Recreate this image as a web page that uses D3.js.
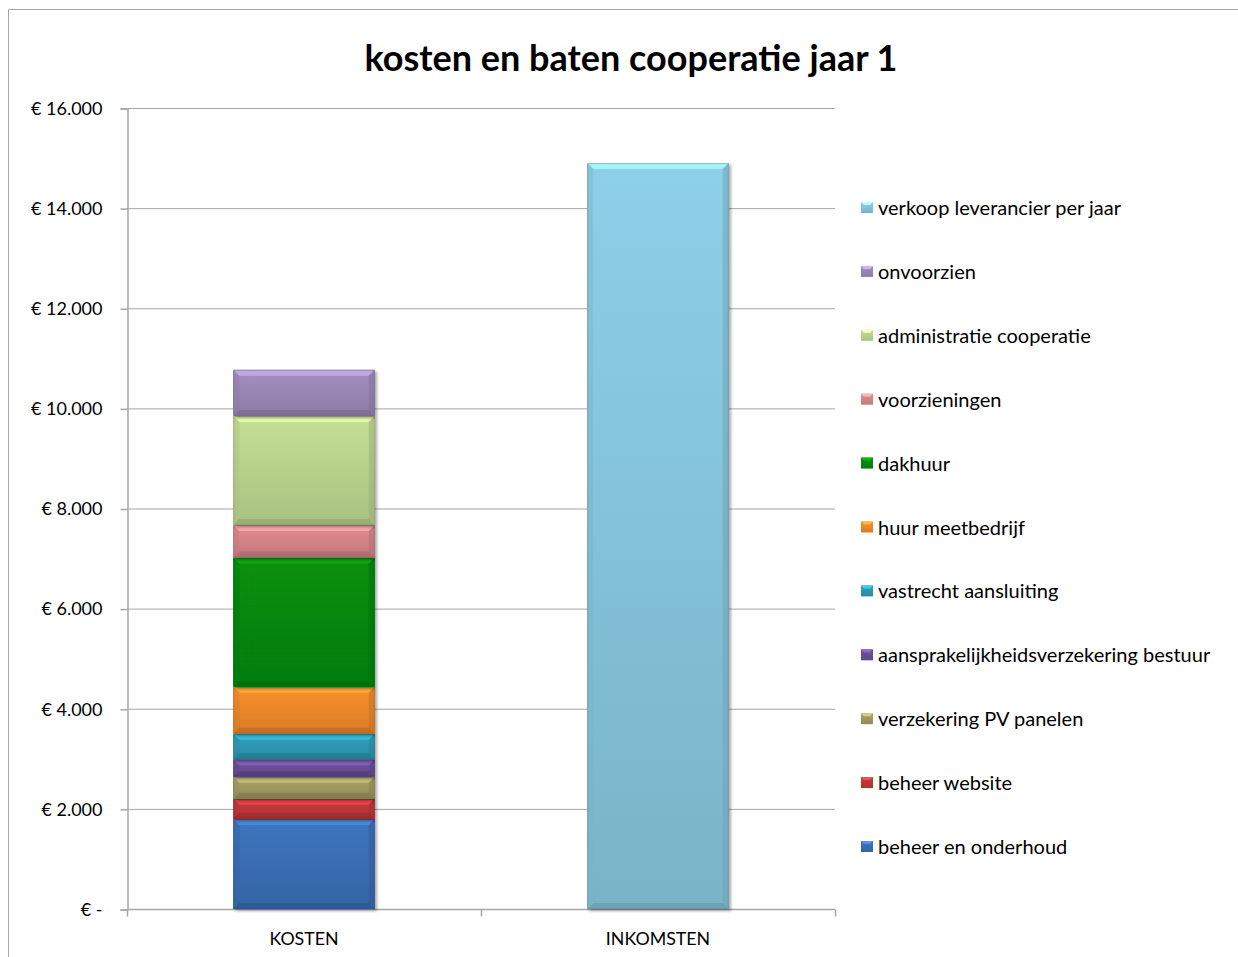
<!DOCTYPE html>
<html><head><meta charset="utf-8">
<script src="https://cdn.jsdelivr.net/npm/d3@7"></script>
<style>
html,body{margin:0;padding:0;background:#fff;}
svg{display:block;font-family:Lato,"Open Sans",sans-serif;}
</style></head>
<body>
<svg id="chart" width="1238" height="957"></svg>
<script>
const title = "kosten en baten cooperatie jaar 1";
const categories = ["KOSTEN", "INKOMSTEN"];
const seriesNames = [
  "beheer en onderhoud",
  "beheer website",
  "verzekering PV panelen",
  "aansprakelijkheidsverzekering bestuur",
  "vastrecht aansluiting",
  "huur meetbedrijf",
  "dakhuur",
  "voorzieningen",
  "administratie cooperatie",
  "onvoorzien",
  "verkoop leverancier per jaar"
];
// values per series: [KOSTEN, INKOMSTEN]
const beheerOnderhoud = [1800, 0];
const beheerWebsite = [400, 0];
const verzekeringPV = [440, 0];
const aansprakelijkheid = [350, 0];
const vastrecht = [510, 0];
const huurMeetbedrijf = [940, 0];
const dakhuur = [2580, 0];
const voorzieningen = [650, 0];
const administratie = [2180, 0];
const onvoorzien = [920, 0];
const verkoopLeverancier = [0, 14900];
const seriesValues = [beheerOnderhoud, beheerWebsite, verzekeringPV, aansprakelijkheid, vastrecht,
  huurMeetbedrijf, dakhuur, voorzieningen, administratie, onvoorzien, verkoopLeverancier];
const seriesColors = ["#3a70b6","#c2383b","#a29c63","#6c4f98","#2f9bb6","#ef8a2b","#078a0a",
  "#d9878a","#bcd78f","#9d89b9","#87c7df"];
const yTicks = [0, 2000, 4000, 6000, 8000, 10000, 12000, 14000, 16000];

const svg = d3.select("#chart");
const W = 1238, H = 957;
const m = {left:127, right:835, top:108, bottom:909};

// frame
svg.append("path").attr("d", `M8.5,${H} V9.5 H${W}`).attr("fill","none").attr("stroke","#a6a6a6").attr("stroke-width",1);

// title
svg.append("text").attr("x", 631).attr("y", 71).attr("text-anchor","middle")
  .attr("font-size", 36).attr("font-weight", 700).attr("fill","#000").text(title);

const x = d3.scaleBand().domain(categories).range([m.left, m.right]).paddingInner(0.6).paddingOuter(0.3);
const y = d3.scaleLinear().domain([0, 16000]).range([m.bottom, m.top]);

// gridlines
svg.append("g").selectAll("line").data(yTicks.filter(d=>d>0)).join("line")
  .attr("x1", m.left).attr("x2", m.right)
  .attr("y1", d=>y(d)+0.5).attr("y2", d=>y(d)+0.5)
  .attr("stroke","#a6a6a6").attr("stroke-width",1);

// y axis
const fmt = d => d === 0 ? "€ -" : "€ " + d3.format(",")(d).replace(/,/g, ".");
const yAxis = d3.axisLeft(y).tickValues(yTicks).tickFormat(fmt).tickSize(7).tickPadding(18);
const gy = svg.append("g").attr("transform", `translate(${m.left+0.5},0.5)`).call(yAxis);
gy.select(".domain").attr("stroke","#a6a6a6").attr("stroke-width",1.5);
gy.selectAll(".tick line").attr("stroke","#a6a6a6").attr("stroke-width",1.5);
gy.selectAll(".tick text").attr("font-size",18).attr("fill","#000").attr("font-family","Lato,sans-serif");

// defs for gradients
const defs = svg.append("defs");
seriesColors.forEach((c,i)=>{
  const g = defs.append("linearGradient").attr("id","grad"+i).attr("x1",0).attr("y1",0).attr("x2",0).attr("y2",1);
  g.append("stop").attr("offset","0%").attr("stop-color", d3.color(c).brighter(0.12));
  g.append("stop").attr("offset","100%").attr("stop-color", d3.color(c).darker(0.3));
});
const sh = defs.append("filter").attr("id","shadow").attr("x","-10%").attr("y","-10%").attr("width","130%").attr("height","130%");
sh.append("feGaussianBlur").attr("in","SourceAlpha").attr("stdDeviation",1.5);
sh.append("feOffset").attr("dx",1.5).attr("dy",1.5).attr("result","b");
sh.append("feComponentTransfer").append("feFuncA").attr("type","linear").attr("slope",0.35);
const mg = sh.append("feMerge"); mg.append("feMergeNode"); mg.append("feMergeNode").attr("in","SourceGraphic");

// stacked data
const table = categories.map((c,ci)=>{
  const o = {cat:c};
  seriesNames.forEach((s,si)=>{ o[s] = seriesValues[si][ci]; });
  return o;
});
const stacked = d3.stack().keys(seriesNames)(table);

// x axis
const gx = svg.append("g").attr("transform", `translate(0,${m.bottom+0.5})`);
gx.append("line").attr("x1", m.left).attr("x2", m.right).attr("stroke","#a6a6a6").attr("stroke-width",1.5);
const boundaries = [m.left, (m.left+m.right)/2, m.right];
gx.selectAll("line.tk").data(boundaries).join("line").attr("class","tk")
  .attr("x1",d=>d+0.5).attr("x2",d=>d+0.5).attr("y1",0).attr("y2",7)
  .attr("stroke","#a6a6a6").attr("stroke-width",1.5);
gx.selectAll("text").data(categories).join("text")
  .attr("x", d=>x(d)+x.bandwidth()/2).attr("y", 35).attr("text-anchor","middle")
  .attr("font-size",17.8).attr("fill","#000").text(d=>d);

// bars
const barsG = svg.append("g");
stacked.forEach((s, si)=>{
  s.forEach((d, ci)=>{
    if (d[1] - d[0] <= 0) return;
    const x0 = x(categories[ci]), w = x.bandwidth();
    const yt = y(d[1]), yb = y(d[0]), h = yb - yt;
    const g = barsG.append("g").attr("filter","url(#shadow)");
    const c = d3.color(seriesColors[si]);
    g.append("rect").attr("x",x0).attr("y",yt).attr("width",w).attr("height",h)
      .attr("fill",`url(#grad${si})`);
    const b = Math.min(6, h/3);
    g.append("path").attr("d",`M${x0},${yt} H${x0+w} L${x0+w-b},${yt+b} H${x0+b} Z`)
      .attr("fill", d3.color(c).brighter(0.7)).attr("opacity",0.75);
    g.append("path").attr("d",`M${x0},${yb} H${x0+w} L${x0+w-b},${yb-b} H${x0+b} Z`)
      .attr("fill", d3.color(c).darker(0.8)).attr("opacity",0.6);
    g.append("path").attr("d",`M${x0},${yt} L${x0+b},${yt+b} V${yb-b} L${x0},${yb} Z`)
      .attr("fill", d3.color(c).darker(0.3)).attr("opacity",0.45);
    g.append("path").attr("d",`M${x0+w},${yt} L${x0+w-b},${yt+b} V${yb-b} L${x0+w},${yb} Z`)
      .attr("fill", d3.color(c).darker(0.6)).attr("opacity",0.5);
    g.append("rect").attr("x",x0+0.5).attr("y",yt+0.5).attr("width",w-1).attr("height",h-1)
      .attr("fill","none").attr("stroke", d3.color(c).darker(0.9)).attr("stroke-opacity",0.5).attr("stroke-width",1);
  });
});

// legend (reverse order)
const legendItems = seriesNames.map((n,i)=>({name:n, color:seriesColors[i], i})).reverse();
const lg = svg.append("g");
legendItems.forEach((d, k)=>{
  const ly = 208 + k*63.9;
  const gg = lg.append("g");
  gg.append("rect").attr("x",861).attr("y",ly-6).attr("width",12).attr("height",11)
    .attr("fill",`url(#grad${d.i})`);
  gg.append("path").attr("d",`M861,${ly-6} H873 L870,${ly-3} H864 Z`).attr("fill", d3.color(d.color).brighter(0.8));
  gg.append("text").attr("x",878).attr("y",ly).attr("dy","0.35em")
    .attr("font-size",20).attr("fill","#000").text(d.name);
});
</script>
</body></html>
